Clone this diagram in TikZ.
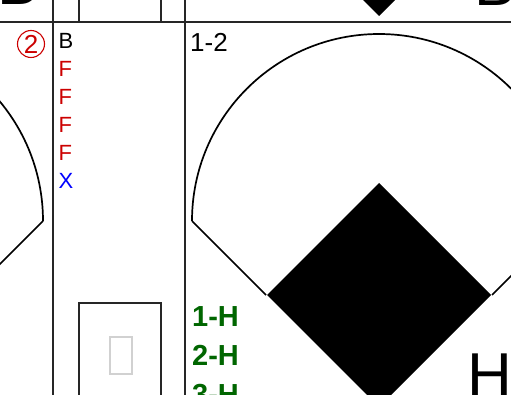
\documentclass[tikz,border=0pt]{standalone}
\usepackage{fontspec}
\setmainfont{Liberation Sans}
\definecolor{pitchred}{RGB}{204,0,0}
\definecolor{pitchblue}{RGB}{0,0,255}
\definecolor{rungreen}{RGB}{0,102,0}
\tikzset{
  grid/.style={line width=1.9pt, black!85},
  field/.style={line width=1.7pt},
  pitch/.style={anchor=base west, inner sep=0pt, font=\fontsize{22}{22}\selectfont},
  runs/.style={anchor=base west, inner sep=0pt, text=rungreen, font=\fontsize{29}{29}\selectfont\bfseries},
  baselabel/.style={anchor=base west, inner sep=0pt, font=\fontsize{62}{62}\selectfont}
}
\begin{document}
\begin{tikzpicture}[x=1pt, y=-1pt]
            \clip (0,0) rectangle (511,395);
            \fill[white] (0,0) rectangle (511,395);

            \draw[field] (192,221) arc[start angle=180, end angle=360, radius=187] -- (492,295);
            \draw[field] (192,221) -- (266,295);
            \fill (379,183) -- (491,295) -- (379,407) -- (267,295) -- cycle;
            \fill (379,-208) -- (491,-96) -- (379,16) -- (267,-96) -- cycle;

            \draw[field] (43,221) arc[start angle=0, end angle=-180, radius=187];
            \draw[field] (43,221) -- (-31,295);

            \draw[grid] (0,22) -- (511,22);
            \draw[grid] (53,0) -- (53,395);
            \draw[grid] (185,0) -- (185,395);
            \draw[grid] (79,0) -- (79,22);
            \draw[grid] (161,0) -- (161,22);
            \draw[grid] (79,420) -- (79,303) -- (161,303) -- (161,420);
            \draw[line width=1.4pt, black!18] (110,337) rectangle (132,374);

            \node[baselabel] (prevleft) at (-3,5) {B};
            \node[baselabel] (prevright) at (474.5,6) {B};
            \node[baselabel] (home) at (467,396) {H};

            \node[circle, draw=pitchred, line width=1.1pt, text=pitchred, inner sep=0pt,
                  minimum size=27pt, font=\fontsize{26}{26}\selectfont] (count) at (31,44) {2};

            \node[pitch] (p1) at (58.5,49) {B};
            \node[pitch, text=pitchred] (p2) at (58.5,77) {F};
            \node[pitch, text=pitchred] (p3) at (58.5,105) {F};
            \node[pitch, text=pitchred] (p4) at (58.5,133) {F};
            \node[pitch, text=pitchred] (p5) at (58.5,161) {F};
            \node[pitch, text=pitchblue] (p6) at (58.5,189) {X};

            \node[anchor=base west, inner sep=0pt, font=\fontsize{26}{26}\selectfont] (score) at (190,52) {1-2};

            \node[runs] (r1) at (192,326) {1-H};
            \node[runs] (r2) at (192,365) {2-H};
            \node[runs] (r3) at (192,404) {3-H};
        \end{tikzpicture}
\end{document}
